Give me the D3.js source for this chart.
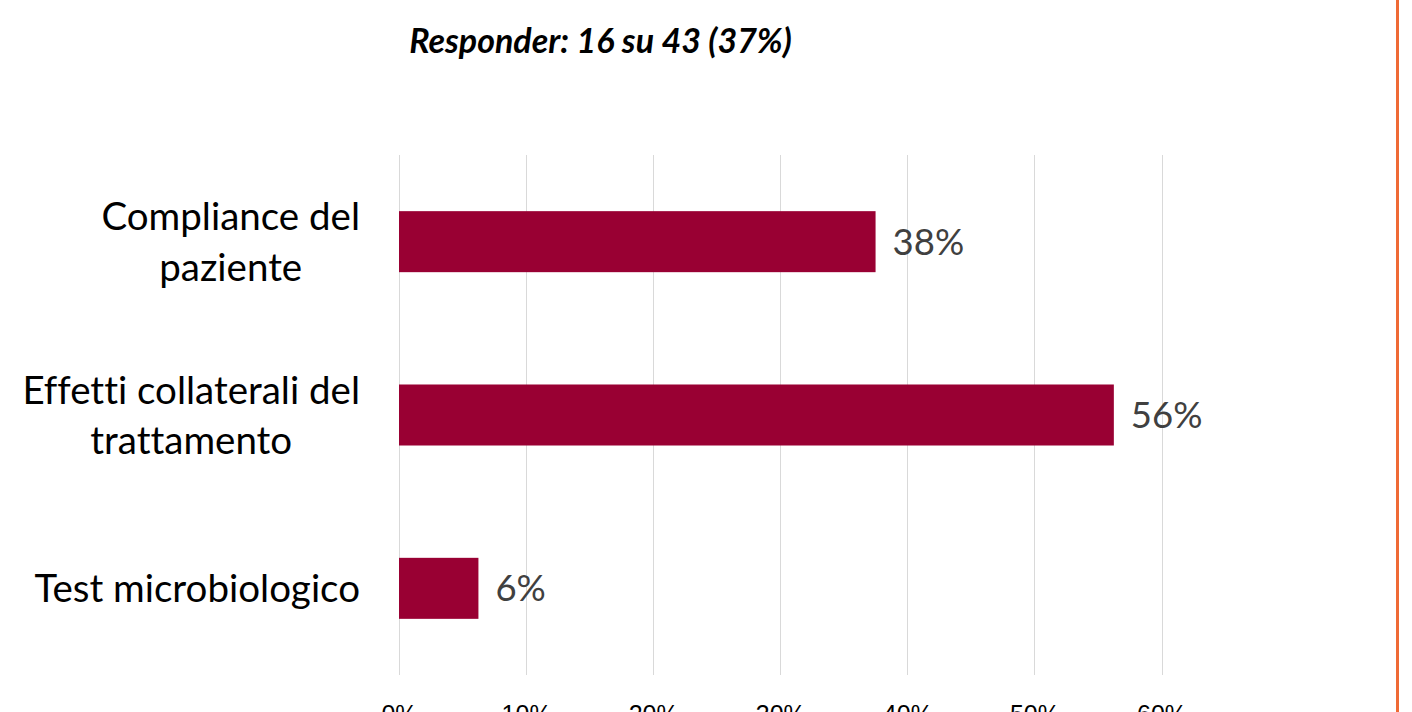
<!DOCTYPE html>
<html>
<head>
<meta charset="utf-8">
<script src="https://cdn.jsdelivr.net/npm/d3@7"></script>
<style>
  html, body { margin: 0; padding: 0; background: #fff; overflow: hidden; }
  svg { display: block; }
  text { font-variant-ligatures: none; }
</style>
</head>
<body>
<div class="js-container"></div>
<script>
;(function() {
  'use strict';

  var subtitle = 'Responder: 16 su 43 (37%)';

  // two-line labels as they wrap in the original
  var categories = [
    ['Compliance del', 'paziente'],
    ['Effetti collaterali del', 'trattamento'],
    ['Test microbiologico']
  ];

  var values = [0.375, 0.5625, 0.0625];

  var valueLabels = ['38%', '56%', '6%'];

  var ticks = [0, 0.1, 0.2, 0.3, 0.4, 0.5, 0.6];

  var W = 1412, H = 712;

  var svg = d3.select('.js-container').append('svg')
              .attr('width', W)
              .attr('height', H);

  var x = d3.scaleLinear()
            .domain([0, 0.6])
            .range([399, 1161.5]);

  var y = d3.scaleBand()
            .domain(d3.range(categories.length))
            .range([155, 675])
            .paddingInner(0.648)
            .paddingOuter(0.324);

  // gridlines
  svg.append('g')
      .selectAll('line')
      .data(ticks)
      .join('line')
        .attr('x1', function(d) { return Math.round(x(d)) + 0.5; })
        .attr('x2', function(d) { return Math.round(x(d)) + 0.5; })
        .attr('y1', 155)
        .attr('y2', 675)
        .attr('stroke', '#d9d9d9')
        .attr('stroke-width', 1);

  // bottom tick labels (cut off by the frame, as in the original)
  var xAxis = d3.axisBottom(x)
                .tickValues(ticks)
                .tickSize(0)
                .tickPadding(0)
                .tickFormat(d3.format('.0%'));

  svg.append('g')
      .attr('transform', 'translate(0,705)')
      .call(xAxis)
      .call(function(g) { g.select('.domain').remove(); })
      .selectAll('text')
        .attr('dy', '0.72em')
        .attr('fill', '#000')
        .style('font-family', '"Liberation Sans", Arial, sans-serif')
        .style('font-size', '25px');

  // bars
  svg.append('g')
      .selectAll('rect')
      .data(values)
      .join('rect')
        .attr('x', x(0))
        .attr('y', function(d, i) { return y(i); })
        .attr('width', function(d) { return x(d) - x(0); })
        .attr('height', y.bandwidth())
        .attr('fill', '#990033');

  // value labels
  svg.append('g')
      .selectAll('text')
      .data(values)
      .join('text')
        .attr('x', function(d) { return x(d) + 17; })
        .attr('y', function(d, i) { return y(i) + y.bandwidth() / 2; })
        .attr('dy', '0.36em')
        .attr('fill', '#404040')
        .style('font-family', 'Lato, sans-serif')
        .style('font-size', '36.5px')
        .text(function(d, i) { return valueLabels[i]; });

  // category labels: block right-aligned at 360, lines centred inside it
  var lineH = 50.5;
  var labelRight = 360;
  var cat = svg.append('g')
      .selectAll('text')
      .data(categories)
      .join('text')
        .attr('text-anchor', 'middle')
        .attr('fill', '#000')
        .style('font-family', 'Lato, sans-serif')
        .style('font-size', '38.5px');

  cat.each(function(lines, i) {
    var el = d3.select(this);
    var cy = y(i) + y.bandwidth() / 2;
    var top = cy - (lines.length - 1) * lineH / 2;
    var spans = el.selectAll('tspan')
        .data(lines)
        .join('tspan')
          .attr('y', function(d, k) { return top + k * lineH; })
          .attr('dy', '0.36em')
          .text(function(d) { return d; });
    var maxW = 0;
    spans.each(function() {
      maxW = Math.max(maxW, this.getComputedTextLength());
    });
    spans.attr('x', labelRight - maxW / 2);
  });

  // subtitle
  svg.append('text')
      .attr('x', 600.5)
      .attr('y', 53)
      .attr('text-anchor', 'middle')
      .attr('fill', '#000')
      .style('font-family', 'Lato, sans-serif')
      .style('font-size', '34px')
      .style('font-weight', 'bold')
      .style('font-style', 'italic')
      .text(subtitle);

  // orange frame line at the right
  svg.append('line')
      .attr('x1', 1397.5)
      .attr('x2', 1397.5)
      .attr('y1', 0)
      .attr('y2', H)
      .attr('stroke', '#ef6a35')
      .attr('stroke-width', 3);

}());
</script>
</body>
</html>
